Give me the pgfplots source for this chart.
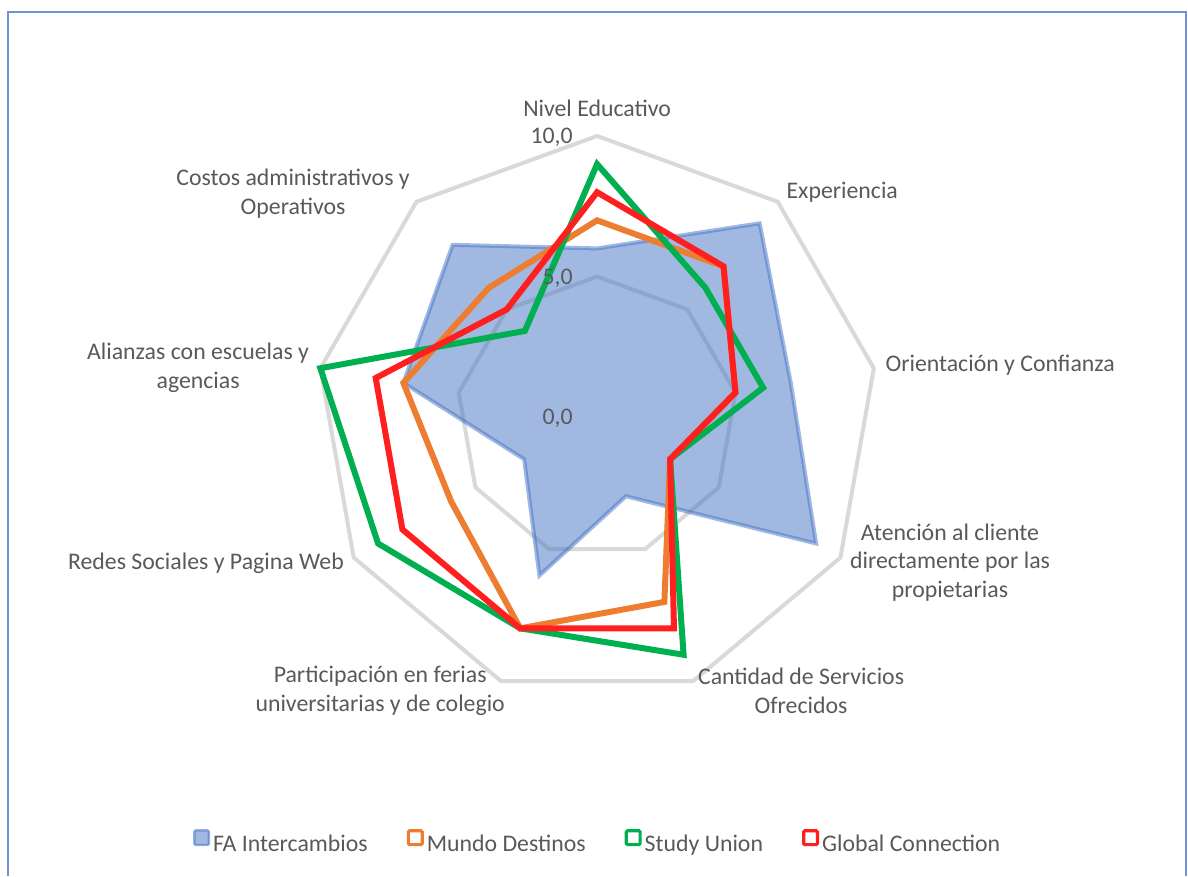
\documentclass[border=0pt]{standalone}
\usepackage{fontspec}
\setmainfont{Carlito}
\usepackage{pgfplots}
\pgfplotsset{compat=1.18}
\usepgfplotslibrary{polar}
\definecolor{cFA}{HTML}{4472C4}
\definecolor{cMD}{HTML}{ED7D31}
\definecolor{cSU}{HTML}{00B050}
\definecolor{cGC}{HTML}{FF1F1F}
\definecolor{cGrid}{HTML}{D9D9D9}
\definecolor{cTxt}{HTML}{595959}
\definecolor{cBorder}{HTML}{6F92D8}
\begin{document}
\begin{tikzpicture}
\begin{axis}[
  scale only axis, width=594pt, height=438pt,
  xmin=-21.25, xmax=21.03, ymin=-16.33, ymax=14.84,
  hide axis, clip=false,
  legend columns=4,
  legend style={at={(axis cs:0.04,-15.16)}, anchor=center, draw=none, fill=none,
    font=\fontsize{11.9}{14.3}\selectfont, text=cTxt,
    /tikz/every even column/.append style={column sep=18pt},
    nodes={inner xsep=1.5pt, inner ysep=1pt}},
  legend cell align=left,
]
% bounding box and frame
\path (axis cs:-21.25,-16.33) rectangle (axis cs:21.03,14.84);
\draw[cBorder, line width=1pt] (axis cs:-20.96,-16.33) -- (axis cs:-20.96,14.41) -- (axis cs:20.96,14.41) -- (axis cs:20.96,-16.33);
% grid rings
\addplot[forget plot, data cs=polar, draw=cGrid, line width=2pt, line join=miter] coordinates {(90,5) (50,5) (10,5) (-30,5) (-70,5) (-110,5) (-150,5) (170,5) (130,5)} -- cycle;
\addplot[forget plot, data cs=polar, draw=cGrid, line width=2pt, line join=miter] coordinates {(90,10) (50,10) (10,10) (-30,10) (-70,10) (-110,10) (-150,10) (170,10) (130,10)} -- cycle;
% series
\addplot[data cs=polar, draw=cFA, draw opacity=0.5, fill=cFA, fill opacity=0.5, line width=2pt, line join=miter,
  legend image code/.code={\draw[fill=cFA, fill opacity=0.5, draw=cFA, draw opacity=0.55, line width=1.2pt, rounded corners=0.6pt] (0.6pt,0.1pt) rectangle (7.9pt,7.4pt);}]
  coordinates {(90,6) (50,9) (10,7) (-30,9) (-70,3) (-110,6) (-150,3) (170,7) (130,8)} -- cycle;
\addlegendentry{FA Intercambios}
\addplot[data cs=polar, draw=cMD, line width=3pt, line join=miter,
  legend image code/.code={\draw[draw=cMD, fill=white, line width=1.6pt, rounded corners=0.6pt] (0.8pt,0.3pt) rectangle (7.7pt,7.2pt);}]
  coordinates {(90,7) (50,7) (10,5) (-30,3) (-70,7) (-110,8) (-150,6) (170,7) (130,6)} -- cycle;
\addlegendentry{Mundo Destinos}
\addplot[data cs=polar, draw=cSU, line width=3pt, line join=miter,
  legend image code/.code={\draw[draw=cSU, fill=white, line width=1.6pt, rounded corners=0.6pt] (0.8pt,0.3pt) rectangle (7.7pt,7.2pt);}]
  coordinates {(90,9) (50,6) (10,6) (-30,3) (-70,9) (-110,8) (-150,9) (170,10) (130,4)} -- cycle;
\addlegendentry{Study Union}
\addplot[data cs=polar, draw=cGC, line width=3pt, line join=miter,
  legend image code/.code={\draw[draw=cGC, fill=white, line width=1.6pt, rounded corners=0.6pt] (0.8pt,0.3pt) rectangle (7.7pt,7.2pt);}]
  coordinates {(90,8) (50,7) (10,5) (-30,3) (-70,8) (-110,8) (-150,8) (170,8) (130,5)} -- cycle;
\addlegendentry{Global Connection}
% labels
\begin{scope}[every node/.style={font=\fontsize{11.9}{14.3}\selectfont, text=cTxt, inner sep=0pt}]
\node[anchor=east] at (axis cs:-0.854,9.96) {10,0};
\node[anchor=east] at (axis cs:-0.854,4.95) {5,0};
\node[anchor=east] at (axis cs:-0.854,-0.04) {0,0};
\node[anchor=center] at (axis cs:0,11.0) {Nivel Educativo};
\node[anchor=west] at (axis cs:6.73,8.01) {Experiencia};
\node[anchor=west] at (axis cs:10.25,1.85) {Orientación y Confianza};
\node[align=center] at (axis cs:12.56,-5.18) {Atención al cliente\\directamente por las\\propietarias};
\node[align=center] at (axis cs:7.26,-9.75) {Cantidad de Servicios\\Ofrecidos};
\node[align=center] at (axis cs:-7.72,-9.75) {Participación en ferias\\universitarias y de colegio};
\node[anchor=east] at (axis cs:-9.0,-5.2) {Redes Sociales y Pagina Web};
\node[align=center] at (axis cs:-14.2,1.76) {Alianzas con escuelas y\\agencias};
\node[align=center] at (axis cs:-10.82,7.94) {Costos administrativos y\\Operativos};
\end{scope}
\end{axis}
\end{tikzpicture}
\end{document}
